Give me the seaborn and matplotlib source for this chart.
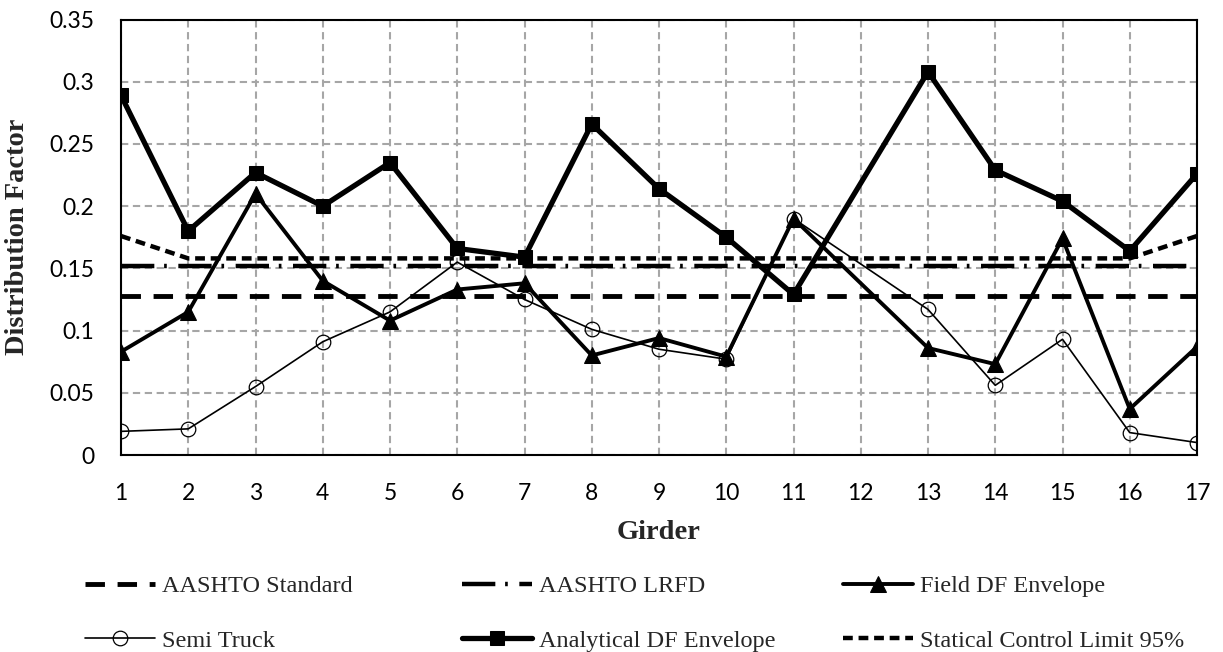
import numpy as np
import pandas as pd
import matplotlib
matplotlib.use("Agg")
import matplotlib.pyplot as plt
import seaborn as sns
from matplotlib.ticker import MultipleLocator, FuncFormatter

# Girder numbers and distribution factors
girders = list(range(1, 18))
analytical = [0.289, 0.180, 0.227, 0.200, 0.235, 0.166, 0.159, 0.266, 0.214,
              0.175, 0.129, np.nan, 0.308, 0.229, 0.204, 0.164, 0.226]
field = [0.083, 0.115, 0.210, 0.140, 0.108, 0.133, 0.138, 0.080, 0.094,
         0.079, 0.190, np.nan, 0.086, 0.073, 0.174, 0.037, 0.087]
semi = [0.019, 0.021, 0.055, 0.091, 0.115, 0.155, 0.125, 0.101, 0.085,
        0.077, 0.190, np.nan, 0.117, 0.056, 0.093, 0.018, 0.010]
aashto_std = [0.128] * 17
aashto_lrfd = [0.152] * 17
control_limit = [0.176] + [0.158] * 15 + [0.176]

sns.set_theme(style="white")
plt.rcParams['font.family'] = ['Lato', 'DejaVu Sans']

W, H = 1223, 652
fig = plt.figure(figsize=(W / 100, H / 100), dpi=100)
ax = fig.add_axes([121 / W, 1 - 455 / H, 1076 / W, 435.5 / H])

# Gridlines first so the data sits on top
ax.set_axisbelow(True)
ax.grid(True, color='#a6a6a6', linestyle=(0, (3.5, 2.2)), linewidth=1.5)

def draw(values, label, **kws):
    d = pd.DataFrame({'Girder': girders, 'DF': values}).dropna()
    sns.lineplot(data=d, x='Girder', y='DF', ax=ax, label=label,
                 color='black', **kws)

draw(aashto_std, 'AASHTO Standard', linewidth=3.5, linestyle=(0, (4, 2.6)))
draw(aashto_lrfd, 'AASHTO LRFD', linewidth=3.2, linestyle=(0, (7.5, 2.2, 0.6, 2.6)))
draw(field, 'Field DF Envelope', linewidth=2.8, marker='^', markersize=11,
     markeredgecolor='black')
draw(semi, 'Semi Truck', linewidth=1.2, marker='o', markersize=10.5,
     markerfacecolor='none', markeredgecolor='black', markeredgewidth=0.9)
draw(analytical, 'Analytical DF Envelope', linewidth=3.8, marker='s', markersize=10.5,
     markeredgecolor='black')
draw(control_limit, 'Statical Control Limit 95%', linewidth=3.2, linestyle=(0, (2.2, 1.3)))

ax.set_xlim(1, 17)
ax.set_ylim(0, 0.35)
ax.set_xticks(girders)
ax.yaxis.set_major_locator(MultipleLocator(0.05))
ax.yaxis.set_minor_locator(MultipleLocator(0.01))
ax.yaxis.set_major_formatter(FuncFormatter(lambda v, p: f'{v:g}'))
ax.tick_params(axis='both', which='major', direction='in', length=5, width=1.5,
               labelsize=16.5, colors='black')
ax.tick_params(axis='y', which='major', pad=19)
ax.tick_params(axis='x', which='major', pad=20)
ax.tick_params(axis='y', which='minor', direction='in', length=5, width=1.3)
for s in ax.spines.values():
    s.set_color('black')
    s.set_linewidth(1.5)

ax.set_xlabel('Girder', family='Liberation Serif', fontweight='bold', fontsize=20.5,
              labelpad=12)
ax.set_ylabel('Distribution Factor', family='Liberation Serif', fontweight='bold',
              fontsize=20.5)
ax.yaxis.set_label_coords((30 - 121) / 1076, 0.5)

# Legend below: three columns, each placed on its own like the original grid
h, l = ax.get_legend_handles_labels()
ax.get_legend().remove()
columns = [([0, 3], 85), ([1, 4], 462), ([2, 5], 843)]
for idx, x0 in columns:
    fig.legend([h[i] for i in idx], [l[i] for i in idx],
               loc='upper left', bbox_to_anchor=(x0 / W, 1 - 575 / H),
               frameon=False, borderpad=0, borderaxespad=0,
               prop={'family': 'Liberation Serif', 'size': 17.5},
               handlelength=2.9, handletextpad=0.25, labelspacing=1.35)

fig.savefig('out.png', dpi=100)
